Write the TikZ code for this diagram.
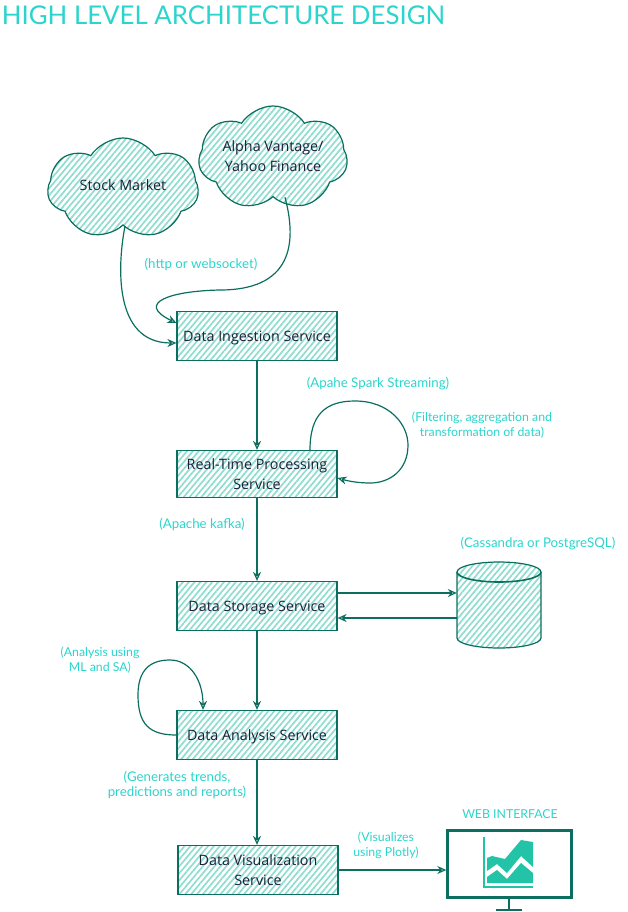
\documentclass[tikz,border=0pt]{standalone}
\usepackage{fontspec}
\setmainfont{Open Sans}
\newfontfamily\handfont{Lato}
\usetikzlibrary{shapes.symbols,arrows.meta,patterns.meta,positioning}
\definecolor{edgeteal}{HTML}{0B6E5F}
\definecolor{hachteal}{HTML}{8FDDCF}
\definecolor{labelcyan}{HTML}{2BD4CC}
\definecolor{chartteal}{HTML}{22C3A6}
\definecolor{textnavy}{HTML}{1E1E3C}
\tikzset{
    hachure/.style={pattern={Lines[angle=50,distance=4.5pt,line width=1.7pt]},pattern color=hachteal},
    service/.style={draw=edgeteal,line width=1.2pt,hachure,minimum width=160pt,minimum height=49pt,
        inner sep=0pt,align=center,text=textnavy,font=\fontsize{14.3}{20}\selectfont},
    oneline/.style={text height=15pt,text depth=3.4pt},
    source/.style={draw=edgeteal,line width=1.2pt,hachure,shape=cloud,cloud puffs=7,cloud puff arc=115,aspect=1.5,inner sep=0pt},
    sourcetext/.style={align=center,text=textnavy,inner sep=0pt,font=\fontsize{14.3}{20}\selectfont},
    store/.style={draw=edgeteal,line width=1.2pt,hachure},
    note/.style={text=labelcyan,align=center,inner sep=0pt,font=\handfont\fontsize{12.3}{15}\selectfont},
    widenote/.style={note,font=\handfont\fontsize{13.3}{15}\selectfont},
    link/.style={draw=edgeteal,line width=1.2pt,-{Stealth[open,length=9pt,width=8pt]}}
}
\begin{document}
\begin{tikzpicture}[x=1pt,y=-1pt]
    \useasboundingbox (0,0) rectangle (627,912);
    \node[text=labelcyan,inner sep=0pt,font=\handfont\fontsize{25.8}{28}\selectfont] (title) at (223.5,15) {HIGH LEVEL ARCHITECTURE DESIGN};

    \node[source,minimum width=151pt,minimum height=101pt,label={[sourcetext,yshift=3.5pt]center:Stock Market}] (stock) at (123,188.5) {};
    \node[source,minimum width=149pt,minimum height=104pt,label={[sourcetext,yshift=2pt]center:Alpha Vantage/\\Yahoo Finance}] (alpha) at (273,158) {};

    \node[service,oneline] (ingest) at (257,336) {Data Ingestion Service};
    \node[service,minimum height=47pt] (realtime) at (257,474) {Real-Time Processing\\Service};
    \node[service,oneline] (storage) at (257,606) {Data Storage Service};
    \node[service,oneline] (analysis) at (257,735) {Data Analysis Service};
    \node[service] (visual) at (258,870) {Data Visualization\\Service};

    \node[minimum width=84pt,minimum height=86pt,inner sep=0pt] (db) at (499,605) {};
    \draw[store] (457,572) -- (457,638) arc[x radius=42pt,y radius=10pt,start angle=180,end angle=360] -- (541,572) arc[x radius=42pt,y radius=10pt,start angle=0,end angle=180] -- cycle;
    \draw[edgeteal,line width=1.6pt] (457,572) arc[x radius=42pt,y radius=10pt,start angle=180,end angle=360];

    \node[draw=edgeteal,line width=2.4pt,fill=white,minimum width=124pt,minimum height=67pt,inner sep=0pt] (webui) at (509.5,864) {};
    \coordinate (standfoot) at (509,910);
    \draw[edgeteal,line width=2.2pt] (webui.south -| standfoot) -- (standfoot);
    \draw[edgeteal,line width=2.2pt] ([xshift=-13pt]standfoot) -- ([xshift=13pt]standfoot);
    \draw[chartteal,line width=1.3pt] (484,837) -- (484,887) -- (533,887);
    \fill[chartteal] (487,858) -- (492,856) -- (505,859) -- (521,840) -- (533,842) -- (533,867) -- (521,856) -- (507,873) -- (497,864) -- (487,871) -- cycle;
    \fill[chartteal] (487,883) -- (487,877) -- (497,870) -- (507,879) -- (521,863) -- (533,873) -- (533,883) -- cycle;

    \node[widenote] (nhttp) at (201,264) {(http or websocket)};
    \node[widenote] (nspark) at (378,384) {(Apahe Spark Streaming)};
    \node[note] (nfilter) at (482,425) {(Filtering, aggregation and\\transformation of data)};
    \node[widenote] (nkafka) at (202,524) {(Apache kafka)};
    \node[widenote] (ncass) at (538,544) {(Cassandra or PostgreSQL)};
    \node[note] (nml) at (100,660) {(Analysis using\\ML and SA)};
    \node[widenote] (ntrend) at (177,785) {(Generates trends,\\predictions and reports)};
    \node[note] (nplotly) at (386,845) {(Visualizes\\using Plotly)};
    \node[note] (nweb) at (510,814) {WEB INTERFACE};

    \draw[link] ([xshift=2pt]stock.south) .. controls (118,262) and (112,343) .. ([yshift=-7pt]ingest.west);
    \draw[link] ([xshift=12pt]alpha.south) .. controls (295,235) and (298,290) .. (220,290) .. controls (170,291) and (135,303) .. ([yshift=13pt]ingest.west);
    \draw[link] (ingest) -- (realtime);
    \draw[link] (realtime) -- (storage);
    \draw[link] (storage) -- (analysis);
    \draw[link] (analysis) -- (analysis |- visual.north);
    \draw[link] (visual) -- (visual -| webui.west);
    \draw[link] ([yshift=13pt]storage.east) -- ([yshift=12pt]db.west);
    \draw[link] ([yshift=-13pt]db.west) -- ([yshift=-12pt]storage.east);
    \draw[link] ([xshift=53pt]realtime.north) .. controls (310,415) and (325,401) .. (355,401) .. controls (390,401) and (408,425) .. (408,445) .. controls (408,470) and (390,483) .. (370,483) .. controls (358,483) and (348,481) .. ([yshift=-4pt]realtime.east);
    \draw[link] (analysis.west) .. controls (150,735) and (138,725) .. (138,695) .. controls (138,670) and (150,660) .. (170,660) .. controls (190,660) and (203,680) .. ([xshift=-54pt]analysis.north);
\end{tikzpicture}
\end{document}
